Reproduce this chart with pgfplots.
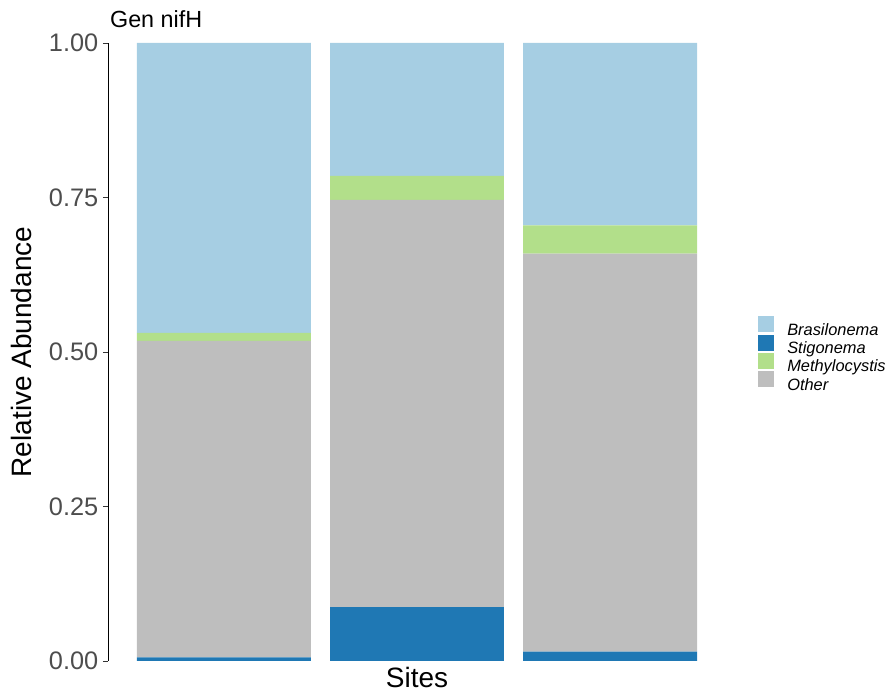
\documentclass[border=0pt]{standalone}
\usepackage{fontspec}
\setmainfont{Liberation Sans}
\usepackage{pgfplots}
\pgfplotsset{compat=1.18}
\definecolor{cBras}{HTML}{A6CEE3}
\definecolor{cStig}{HTML}{1F78B4}
\definecolor{cMeth}{HTML}{B2DF8A}
\definecolor{cOther}{HTML}{BEBEBE}
\definecolor{tickgray}{HTML}{4D4D4D}
\begin{document}
\begin{tikzpicture}
\path[use as bounding box] (-81pt,-26.25pt) rectangle (588.75pt,495.75pt);
\begin{axis}[
  scale only axis,
  width=463.5pt, height=463.5pt,
  ybar stacked, bar width=0.9,
  xmin=0.4, xmax=3.6, ymin=0, ymax=1,
  axis x line*=bottom,
  x axis line style={draw=none},
  axis y line*=left,
  y axis line style={-, black, line width=0.5pt},
  ytick={0,0.25,0.5,0.75,1},
  yticklabel style={/pgf/number format/fixed, /pgf/number format/fixed zerofill, /pgf/number format/precision=2, text=tickgray, font=\fontsize{19}{22}\selectfont},
  /pgf/number format/assume math mode=true,
  tick align=outside, major tick length=3.75pt,
  tick style={black!80, line width=0.5pt},
  xtick=\empty,
  ylabel={Relative Abundance},
  ylabel style={at={(axis description cs:-0.14,0.5)}, anchor=center, font=\fontsize{21}{25}\selectfont},
  xlabel={Sites},
  xlabel style={at={(axis description cs:0.5,-0.0275)}, anchor=center, font=\fontsize{21}{25}\selectfont},
  title={Gen nifH},
  title style={at={(axis description cs:0.003,1.0114)}, anchor=base west, inner sep=0pt, font=\fontsize{17.5}{21}\selectfont},
  legend style={at={(axis description cs:1.0518,0.558)}, anchor=north west, draw=none, fill=none, inner sep=0pt, row sep=-3.25pt,
    font=\fontsize{12.3}{14}\selectfont\itshape, nodes={inner sep=0pt, text height=9pt, text depth=3pt},
    /tikz/every odd column/.append style={column sep=9.75pt}},
  legend cell align=left,
  legend image code/.code={\fill[#1] (0pt,-1pt) rectangle (12pt,11pt);},
  every axis plot/.append style={draw=none},
]
\addplot[fill=cStig, forget plot] coordinates {(1,0.006) (2,0.087) (3,0.015)};
\addplot[fill=cOther, forget plot] coordinates {(1,0.512) (2,0.659) (3,0.644)};
\addplot[fill=cMeth, forget plot] coordinates {(1,0.013) (2,0.039) (3,0.046)};
\addplot[fill=cBras, forget plot] coordinates {(1,0.469) (2,0.215) (3,0.295)};
\addlegendimage{fill=cBras}\addlegendentry{Brasilonema}
\addlegendimage{fill=cStig}\addlegendentry{Stigonema}
\addlegendimage{fill=cMeth}\addlegendentry{Methylocystis}
\addlegendimage{fill=cOther}\addlegendentry{Other}
\end{axis}
\end{tikzpicture}
\end{document}
